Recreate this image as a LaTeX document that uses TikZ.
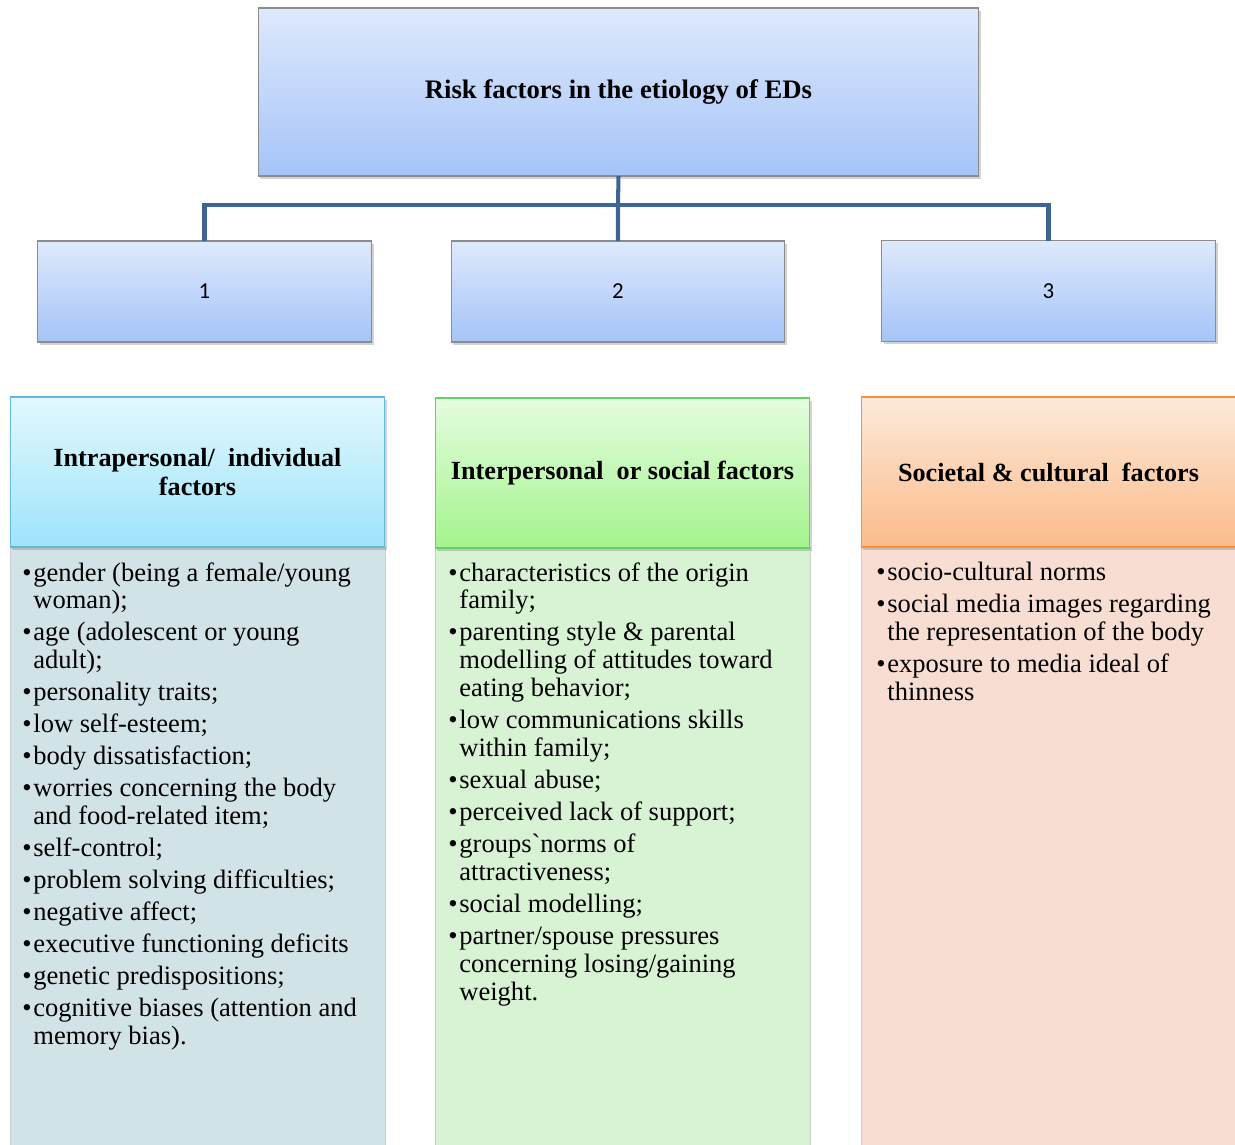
\documentclass[tikz,border=0pt]{standalone}
\usepackage{fontspec}
\setmainfont{Liberation Serif}
\newfontfamily\numfont{Carlito}
\usetikzlibrary{shadows}
\definecolor{blueHi}{RGB}{222,233,252}
\definecolor{blueLo}{RGB}{165,196,248}
\definecolor{cyanHi}{RGB}{226,248,254}
\definecolor{cyanLo}{RGB}{158,228,250}
\definecolor{greenHi}{RGB}{228,252,222}
\definecolor{greenLo}{RGB}{164,244,142}
\definecolor{orangeHi}{RGB}{253,233,218}
\definecolor{orangeLo}{RGB}{251,188,138}
\definecolor{linkBlue}{RGB}{62,100,150}
\definecolor{edgeGray}{RGB}{140,140,140}
\definecolor{paleCyan}{RGB}{210,227,232}
\definecolor{paleGreen}{RGB}{216,242,212}
\definecolor{paleOrange}{RGB}{248,221,210}
\newcommand{\bul}{\makebox[6.3pt][l]{\textbullet}}
\newcommand{\ind}{\hspace*{6.3pt}}
\tikzset{
  box/.style={draw=edgeGray, line width=0.6pt, inner sep=0pt, outer sep=0pt,
    drop shadow={shadow xshift=1.2pt, shadow yshift=-1.5pt, opacity=0.35}},
  numbox/.style={box, top color=blueHi, bottom color=blueLo, minimum width=6.68cm, minimum height=2.02cm, font=\numfont\fontsize{13}{15}\selectfont},
  headbox/.style={box, minimum width=7.5cm, minimum height=3cm, align=center, font=\bfseries\fontsize{14.9}{16.5}\selectfont},
  bodybox/.style={draw=black!20, line width=0.4pt, inner sep=0pt, outer sep=0pt, minimum width=7.5cm, minimum height=12.06cm},
  items/.style={anchor=north west, align=left, inner sep=0pt, font=\fontsize{15.1}{15.9}\selectfont},
  link/.style={draw=linkBlue, line width=2.3pt}
}

\begin{document}
\begin{tikzpicture}[x=0.02cm, y=-0.02cm]
    \useasboundingbox (0,0) rectangle (1235,1144);
    % top of the tree
    \node[box, top color=blueHi, bottom color=blueLo, minimum width=14.42cm, minimum height=3.36cm,
      font=\bfseries\fontsize{15.2}{17}\selectfont] (root) at (618.5,92) {Risk factors in the etiology of EDs};
    \node[numbox] (n1) at (204.5,291.5) {1};
    \node[numbox] (n2) at (618,291.5) {2};
    \node[numbox] (n3) at (1048.5,291) {3};
    \coordinate (bar) at (618,205);
    \draw[link] (root.south) -- (bar) -- (n2.north);
    \draw[link] (n1.north) |- (bar) -| (n3.north);
    % the three columns
    \node[bodybox, fill=paleCyan] (bA) at (197.5,848.5) {};
    \node[bodybox, fill=paleGreen] (bB) at (622.5,848.5) {};
    \node[bodybox, fill=paleOrange] (bC) at (1048.5,848.5) {};
    \node[headbox, draw=cyan!60!teal!70!white, top color=cyanHi, bottom color=cyanLo] (hA) at (197.5,472)
      {Intrapersonal/\ \ individual\\factors};
    \node[headbox, draw=green!70!black!60!white, top color=greenHi, bottom color=greenLo] (hB) at (622.5,473)
      {Interpersonal\ \ or social factors};
    \node[headbox, draw=orange!90!red!80!white, top color=orangeHi, bottom color=orangeLo] (hC) at (1048.5,472)
      {Societal \& cultural\ \ factors};
    \node[items] (tA) at (22,562) {\bul gender (being a female/young\\ \ind woman);\\[2.3pt]
      \bul age (adolescent or young\\ \ind adult);\\[2.3pt]
      \bul personality traits;\\[2.3pt]
      \bul low self-esteem;\\[2.3pt]
      \bul body dissatisfaction;\\[2.3pt]
      \bul worries concerning the body\\ \ind and food-related item;\\[2.3pt]
      \bul self-control;\\[2.3pt]
      \bul problem solving difficulties;\\[2.3pt]
      \bul negative affect;\\[2.3pt]
      \bul executive functioning deficits\\[2.3pt]
      \bul genetic predispositions;\\[2.3pt]
      \bul cognitive biases (attention and\\ \ind memory bias).};
    \node[items] (tB) at (448,562) {\bul characteristics of the origin\\ \ind family;\\[2.3pt]
      \bul parenting style \& parental\\ \ind modelling of attitudes toward\\ \ind eating behavior;\\[2.3pt]
      \bul low communications skills\\ \ind within family;\\[2.3pt]
      \bul sexual abuse;\\[2.3pt]
      \bul perceived lack of support;\\[2.3pt]
      \bul groups\textasciigrave norms of\\ \ind attractiveness;\\[2.3pt]
      \bul social modelling;\\[2.3pt]
      \bul partner/spouse pressures\\ \ind concerning losing/gaining\\ \ind weight.};
    \node[items] (tC) at (876,562) {\bul socio-cultural norms\\[2.3pt]
      \bul social media images regarding\\ \ind the representation of the body\\[2.3pt]
      \bul exposure to media ideal of\\ \ind thinness};
\end{tikzpicture}
\end{document}
